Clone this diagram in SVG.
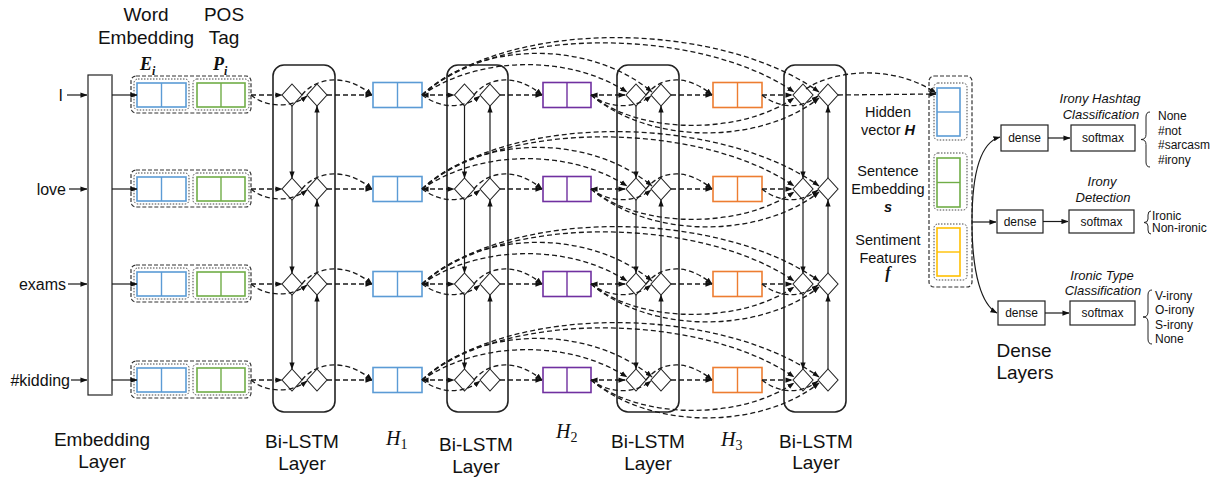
<svg xmlns="http://www.w3.org/2000/svg" xmlns:xlink="http://www.w3.org/1999/xlink" width="1220" height="477" viewBox="0 0 1220 477">
  <defs>
    <style>
      .sans { font-family: "Liberation Sans", Arial, sans-serif; fill: #111; }
      .big { font-size: 19px; text-anchor: middle; }
      .word { font-size: 16px; text-anchor: end; }
      .mid { font-size: 14.5px; text-anchor: middle; }
      .small { font-size: 12px; }
      .ttl { font-size: 13px; font-style: italic; text-anchor: middle; }
      .ctr { text-anchor: middle; }
      .math { font-family: "Liberation Serif", "Times New Roman", serif; font-style: italic; fill: #111; }
      .bi { font-weight: bold; font-style: italic; }
      .lay { fill: none; stroke: #222; stroke-width: 1.6; }
      .dia { fill: #fff; stroke: #222; stroke-width: 1.1; }
      .outer { fill: none; stroke: #333; stroke-width: 1.2; stroke-dasharray: 4 2; }
      .dot { fill: none; stroke: #444; stroke-width: 1; stroke-dasharray: 1.5 1.5; }
      .cell { fill: #fff; stroke-width: 1.6; }
      .blue { stroke: #5b9bd5; }
      .green { stroke: #70ad47; }
      .purple { stroke: #7030a0; }
      .orange { stroke: #ed7d31; }
      .yellow { stroke: #ffc000; }
      .div { fill: none; stroke-width: 1.4; }
      .box { fill: #fff; stroke: #222; stroke-width: 1.2; }
      .dash { fill: none; stroke: #1a1a1a; stroke-width: 1.3; stroke-dasharray: 5 3; marker-end: url(#ah); }
      .both { marker-start: url(#ahs); }
      .solid { fill: none; stroke: #1a1a1a; stroke-width: 1.2; marker-end: url(#ah); }
      .brace { fill: none; stroke: #222; stroke-width: 1; }
    </style>
    <marker id="ah" viewBox="0 0 8 6" refX="7.5" refY="3" markerWidth="7" markerHeight="5.5" orient="auto" markerUnits="userSpaceOnUse">
      <path d="M0,0 L8,3 L0,6 Z" fill="#111"/>
    </marker>
    <marker id="ahs" viewBox="0 0 8 6" refX="0.5" refY="3" markerWidth="7" markerHeight="5.5" orient="auto" markerUnits="userSpaceOnUse">
      <path d="M8,0 L0,3 L8,6 Z" fill="#111"/>
    </marker>
    <path id="dia" class="dia" d="M0,-11 L10,0 L0,11 L-10,0 Z"/>
  </defs>

  <rect width="1220" height="477" fill="#fff"/>

  <!-- input words -->
  <g id="words" class="sans word">
    <text x="63" y="101">I</text>
    <text x="66" y="195">love</text>
    <text x="66" y="290">exams</text>
    <text x="70" y="386">#kidding</text>
  </g>

  <!-- embedding layer -->
  <g id="embedding-layer">
    <rect x="88" y="75" width="24" height="320" fill="#fff" stroke="#222" stroke-width="1.2"/>
    <line x1="112" y1="75" x2="112" y2="395" stroke="#777" stroke-width="2"/>
    <text class="sans big" x="102" y="446">Embedding</text>
    <text class="sans big" x="102" y="468">Layer</text>
  </g>

  <!-- column headings -->
  <g id="headings">
    <text class="sans big" x="146" y="21">Word</text>
    <text class="sans big" x="146" y="44">Embedding</text>
    <text class="sans big" x="224" y="21">POS</text>
    <text class="sans big" x="224" y="44">Tag</text>
    <text class="math bi" x="140" y="70" font-size="18">E<tspan font-size="12" dy="5">i</tspan></text>
    <text class="math bi" x="213" y="70" font-size="18">P<tspan font-size="12" dy="5">i</tspan></text>
  </g>

  <!-- word embedding + POS tag vectors, one per token -->
  <g id="emb-I" transform="translate(0,95)">
    <rect class="outer" x="131" y="-19" width="120" height="37" rx="5"/>
    <rect class="dot" x="134" y="-16" width="55" height="31" rx="4"/>
    <rect class="dot" x="193" y="-16" width="56" height="31" rx="4"/>
    <rect class="cell blue" x="137" y="-12" width="49" height="24"/>
    <line class="div blue" x1="161.5" y1="-12" x2="161.5" y2="12"/>
    <rect class="cell green" x="197" y="-12" width="48" height="24"/>
    <line class="div green" x1="221" y1="-12" x2="221" y2="12"/>
  </g>
  <g id="emb-love" transform="translate(0,189)">
    <rect class="outer" x="131" y="-19" width="120" height="37" rx="5"/>
    <rect class="dot" x="134" y="-16" width="55" height="31" rx="4"/>
    <rect class="dot" x="193" y="-16" width="56" height="31" rx="4"/>
    <rect class="cell blue" x="137" y="-12" width="49" height="24"/>
    <line class="div blue" x1="161.5" y1="-12" x2="161.5" y2="12"/>
    <rect class="cell green" x="197" y="-12" width="48" height="24"/>
    <line class="div green" x1="221" y1="-12" x2="221" y2="12"/>
  </g>
  <g id="emb-exams" transform="translate(0,284)">
    <rect class="outer" x="131" y="-19" width="120" height="37" rx="5"/>
    <rect class="dot" x="134" y="-16" width="55" height="31" rx="4"/>
    <rect class="dot" x="193" y="-16" width="56" height="31" rx="4"/>
    <rect class="cell blue" x="137" y="-12" width="49" height="24"/>
    <line class="div blue" x1="161.5" y1="-12" x2="161.5" y2="12"/>
    <rect class="cell green" x="197" y="-12" width="48" height="24"/>
    <line class="div green" x1="221" y1="-12" x2="221" y2="12"/>
  </g>
  <g id="emb-kidding" transform="translate(0,380)">
    <rect class="outer" x="131" y="-19" width="120" height="37" rx="5"/>
    <rect class="dot" x="134" y="-16" width="55" height="31" rx="4"/>
    <rect class="dot" x="193" y="-16" width="56" height="31" rx="4"/>
    <rect class="cell blue" x="137" y="-12" width="49" height="24"/>
    <line class="div blue" x1="161.5" y1="-12" x2="161.5" y2="12"/>
    <rect class="cell green" x="197" y="-12" width="48" height="24"/>
    <line class="div green" x1="221" y1="-12" x2="221" y2="12"/>
  </g>

  <!-- Bi-LSTM layers: forward cell (left diamond) and backward cell (right diamond) per token -->
  <g id="bilstm-1">
    <rect class="lay" x="273" y="65" width="62" height="347" rx="11"/>
    <use xlink:href="#dia" x="292" y="95"/><use xlink:href="#dia" x="317" y="95"/>
    <use xlink:href="#dia" x="292" y="189"/><use xlink:href="#dia" x="317" y="189"/>
    <use xlink:href="#dia" x="292" y="284"/><use xlink:href="#dia" x="317" y="284"/>
    <use xlink:href="#dia" x="292" y="380"/><use xlink:href="#dia" x="317" y="380"/>
    <text class="sans big" x="302" y="448">Bi-LSTM</text>
    <text class="sans big" x="302" y="470">Layer</text>
  </g>
  <g id="bilstm-2">
    <rect class="lay" x="447" y="65" width="61" height="347" rx="11"/>
    <use xlink:href="#dia" x="464.5" y="95"/><use xlink:href="#dia" x="490" y="95"/>
    <use xlink:href="#dia" x="464.5" y="189"/><use xlink:href="#dia" x="490" y="189"/>
    <use xlink:href="#dia" x="464.5" y="284"/><use xlink:href="#dia" x="490" y="284"/>
    <use xlink:href="#dia" x="464.5" y="380"/><use xlink:href="#dia" x="490" y="380"/>
    <text class="sans big" x="476" y="451">Bi-LSTM</text>
    <text class="sans big" x="476" y="473">Layer</text>
  </g>
  <g id="bilstm-3">
    <rect class="lay" x="617" y="65" width="62" height="347" rx="11"/>
    <use xlink:href="#dia" x="636" y="95"/><use xlink:href="#dia" x="661" y="95"/>
    <use xlink:href="#dia" x="636" y="189"/><use xlink:href="#dia" x="661" y="189"/>
    <use xlink:href="#dia" x="636" y="284"/><use xlink:href="#dia" x="661" y="284"/>
    <use xlink:href="#dia" x="636" y="380"/><use xlink:href="#dia" x="661" y="380"/>
    <text class="sans big" x="648" y="448">Bi-LSTM</text>
    <text class="sans big" x="648" y="470">Layer</text>
  </g>
  <g id="bilstm-4">
    <rect class="lay" x="784" y="65" width="62" height="347" rx="11"/>
    <use xlink:href="#dia" x="803" y="95"/><use xlink:href="#dia" x="828" y="95"/>
    <use xlink:href="#dia" x="803" y="189"/><use xlink:href="#dia" x="828" y="189"/>
    <use xlink:href="#dia" x="803" y="284"/><use xlink:href="#dia" x="828" y="284"/>
    <use xlink:href="#dia" x="803" y="380"/><use xlink:href="#dia" x="828" y="380"/>
    <text class="sans big" x="816" y="448">Bi-LSTM</text>
    <text class="sans big" x="816" y="469">Layer</text>
  </g>

  <!-- hidden states H1, H2, H3 -->
  <g id="h1">
    <rect class="cell blue" x="373" y="82.5" width="49" height="25"/><line class="div blue" x1="397.5" y1="82.5" x2="397.5" y2="107.5"/>
    <rect class="cell blue" x="373" y="176.5" width="49" height="25"/><line class="div blue" x1="397.5" y1="176.5" x2="397.5" y2="201.5"/>
    <rect class="cell blue" x="373" y="271.5" width="49" height="25"/><line class="div blue" x1="397.5" y1="271.5" x2="397.5" y2="296.5"/>
    <rect class="cell blue" x="373" y="367.5" width="49" height="25"/><line class="div blue" x1="397.5" y1="367.5" x2="397.5" y2="392.5"/>
    <text class="math" x="386" y="445" font-size="20">H<tspan font-style="normal" font-size="14" dy="4">1</tspan></text>
  </g>
  <g id="h2">
    <rect class="cell purple" x="543" y="82.5" width="48" height="25"/><line class="div purple" x1="567" y1="82.5" x2="567" y2="107.5"/>
    <rect class="cell purple" x="543" y="176.5" width="48" height="25"/><line class="div purple" x1="567" y1="176.5" x2="567" y2="201.5"/>
    <rect class="cell purple" x="543" y="271.5" width="48" height="25"/><line class="div purple" x1="567" y1="271.5" x2="567" y2="296.5"/>
    <rect class="cell purple" x="543" y="367.5" width="48" height="25"/><line class="div purple" x1="567" y1="367.5" x2="567" y2="392.5"/>
    <text class="math" x="556" y="438" font-size="20">H<tspan font-style="normal" font-size="14" dy="4">2</tspan></text>
  </g>
  <g id="h3">
    <rect class="cell orange" x="713" y="82.5" width="49" height="25"/><line class="div orange" x1="737.5" y1="82.5" x2="737.5" y2="107.5"/>
    <rect class="cell orange" x="713" y="176.5" width="49" height="25"/><line class="div orange" x1="737.5" y1="176.5" x2="737.5" y2="201.5"/>
    <rect class="cell orange" x="713" y="271.5" width="49" height="25"/><line class="div orange" x1="737.5" y1="271.5" x2="737.5" y2="296.5"/>
    <rect class="cell orange" x="713" y="367.5" width="49" height="25"/><line class="div orange" x1="737.5" y1="367.5" x2="737.5" y2="392.5"/>
    <text class="math" x="721" y="446" font-size="20">H<tspan font-style="normal" font-size="14" dy="4">3</tspan></text>
  </g>

  <!-- concatenated feature vector -->
  <g id="concat">
    <rect class="outer" x="929" y="76" width="43" height="211" rx="5" stroke-dasharray="5 2.5"/>
    <rect class="dot" x="934" y="83" width="33" height="57" rx="4"/>
    <rect class="cell blue" x="937" y="88" width="23" height="48"/><line class="div blue" x1="937" y1="112" x2="960" y2="112"/>
    <rect class="dot" x="934" y="153" width="33" height="57" rx="4"/>
    <rect class="cell green" x="937" y="158" width="23" height="49"/><line class="div green" x1="937" y1="182.5" x2="960" y2="182.5"/>
    <rect class="dot" x="934" y="224" width="33" height="56" rx="4"/>
    <rect class="cell yellow" x="937" y="228" width="23" height="48"/><line class="div yellow" x1="937" y1="252" x2="960" y2="252"/>
    <g class="sans mid">
      <text x="888" y="117">Hidden</text>
      <text x="888" y="135">vector <tspan class="bi">H</tspan></text>
      <text x="888" y="176">Sentence</text>
      <text x="888" y="194">Embedding</text>
      <text x="888" y="212" class="bi">s</text>
      <text x="888" y="245">Sentiment</text>
      <text x="888" y="263">Features</text>
    </g>
    <text class="math bi ctr" x="888" y="278" font-size="16">f</text>
  </g>

  <!-- dense heads -->
  <g id="head-hashtag">
    <text class="sans ttl" x="1100" y="103">Irony Hashtag</text>
    <text class="sans ttl" x="1101" y="119">Classification</text>
    <rect class="box" x="1001" y="125" width="47" height="26"/>
    <text class="sans small ctr" x="1024.5" y="142">dense</text>
    <rect class="box" x="1071" y="125" width="64" height="26"/>
    <text class="sans small ctr" x="1103" y="142">softmax</text>
    <path class="brace" d="M1150,112 Q1146,112 1146,117 L1146,134.5 Q1146,139.5 1141,139.5 Q1146,139.5 1146,144.5 L1146,162 Q1146,167 1150,167"/>
    <g class="sans small">
      <text x="1158" y="120">None</text>
      <text x="1158" y="134.5">#not</text>
      <text x="1158" y="149">#sarcasm</text>
      <text x="1158" y="163.5">#irony</text>
    </g>
  </g>
  <g id="head-detection">
    <text class="sans ttl" x="1102" y="186">Irony</text>
    <text class="sans ttl" x="1103" y="202">Detection</text>
    <rect class="box" x="997" y="210" width="46" height="23"/>
    <text class="sans small ctr" x="1020" y="226">dense</text>
    <rect class="box" x="1069" y="210" width="65" height="23"/>
    <text class="sans small ctr" x="1101.5" y="226">softmax</text>
    <path class="brace" d="M1151,211 Q1148,211 1148,215 L1148,219 Q1148,222.5 1144,222.5 Q1148,222.5 1148,226 L1148,230 Q1148,234 1151,234"/>
    <g class="sans small">
      <text x="1152" y="219.5">Ironic</text>
      <text x="1152" y="232">Non-ironic</text>
    </g>
  </g>
  <g id="head-type">
    <text class="sans ttl" x="1102" y="280">Ironic Type</text>
    <text class="sans ttl" x="1103" y="295">Classification</text>
    <rect class="box" x="998" y="301" width="47" height="24"/>
    <text class="sans small ctr" x="1021.5" y="317">dense</text>
    <rect class="box" x="1070" y="301" width="65" height="24"/>
    <text class="sans small ctr" x="1102.5" y="317">softmax</text>
    <path class="brace" d="M1152,290 Q1148,290 1148,295 L1148,312 Q1148,317 1143,317 Q1148,317 1148,322 L1148,339 Q1148,344 1152,344"/>
    <g class="sans small">
      <text x="1155" y="299.5">V-irony</text>
      <text x="1155" y="314">O-irony</text>
      <text x="1155" y="328.5">S-irony</text>
      <text x="1155" y="343">None</text>
    </g>
    <text class="sans big" x="1024" y="357">Dense</text>
    <text class="sans big" x="1025" y="379">Layers</text>
  </g>

  <!-- connectors -->
  <g id="connectors">
    <!-- word to embedding layer, embedding layer to vectors -->
    <path class="solid" d="M67,95 L87,95"/>
    <path class="solid" d="M69,189 L87,189"/>
    <path class="solid" d="M68,284 L87,284"/>
    <path class="solid" d="M71,380 L87,380"/>
    <path class="solid" d="M112,95 L137,95"/>
    <path class="solid" d="M112,189 L137,189"/>
    <path class="solid" d="M112,284 L137,284"/>
    <path class="solid" d="M112,380 L137,380"/>

    <!-- recurrent links inside each Bi-LSTM layer -->
    <path class="solid" d="M292,106 L292,178"/><path class="solid" d="M292,200 L292,273"/><path class="solid" d="M292,295 L292,369"/>
    <path class="solid" d="M317,178 L317,106"/><path class="solid" d="M317,273 L317,200"/><path class="solid" d="M317,369 L317,295"/>
    <path class="solid" d="M464.5,106 L464.5,178"/><path class="solid" d="M464.5,200 L464.5,273"/><path class="solid" d="M464.5,295 L464.5,369"/>
    <path class="solid" d="M490,178 L490,106"/><path class="solid" d="M490,273 L490,200"/><path class="solid" d="M490,369 L490,295"/>
    <path class="solid" d="M636,106 L636,178"/><path class="solid" d="M636,200 L636,273"/><path class="solid" d="M636,295 L636,369"/>
    <path class="solid" d="M661,178 L661,106"/><path class="solid" d="M661,273 L661,200"/><path class="solid" d="M661,369 L661,295"/>
    <path class="solid" d="M803,106 L803,178"/><path class="solid" d="M803,200 L803,273"/><path class="solid" d="M803,295 L803,369"/>
    <path class="solid" d="M828,178 L828,106"/><path class="solid" d="M828,273 L828,200"/><path class="solid" d="M828,369 L828,295"/>

    <!-- per-token data flow, drawn relative to each row centre -->
    <g id="flow-row1" transform="translate(0,95)">
      <path class="dash" d="M251,0 L282,0"/>
      <path class="dash" d="M251,0 C265,12 290,14 307,1"/>
      <path class="dash" d="M302,0 C315,-17 345,-23 372,0"/>
      <path class="dash" d="M327,0 L372,0"/>
      <path class="dash both" d="M422,0 L454,0"/>
      <path class="dash" d="M422,0 C440,13 462,15 480,1"/>
      <path class="dash" d="M474,0 C487,-17 515,-23 542,0"/>
      <path class="dash" d="M500,0 L542,0"/>
      <path class="dash both" d="M591,0 L625,0"/>
      <path class="dash" d="M591,0 C608,13 633,15 651,1"/>
      <path class="dash" d="M646,0 C659,-17 685,-23 712,0"/>
      <path class="dash" d="M671,0 L712,0"/>
      <path class="dash" d="M762,0 L792,0"/>
      <path class="dash" d="M762,0 C778,13 800,15 818,1"/>
      <path class="dash" d="M422,0 C480,-40 570,-40 627,-3"/>
      <path class="dash" d="M422,0 C480,-55 590,-55 652,-3"/>
      <path class="dash" d="M422,0 C500,-70 700,-68 794,-3"/>
      <path class="dash" d="M422,0 C510,-78 720,-74 819,-3"/>
      <path class="dash" d="M591,0 C640,40 740,40 794,3"/>
      <path class="dash" d="M591,0 C650,50 760,50 819,3"/>
      <path class="dash" d="M838,0 L936,-1"/>
      <path class="dash" d="M806,-6 C830,-23 890,-33 936,-2"/>
    </g>
    <g id="flow-row2" transform="translate(0,189)">
      <path class="dash" d="M251,0 L282,0"/>
      <path class="dash" d="M251,0 C265,12 290,14 307,1"/>
      <path class="dash" d="M302,0 C315,-17 345,-23 372,0"/>
      <path class="dash" d="M327,0 L372,0"/>
      <path class="dash both" d="M422,0 L454,0"/>
      <path class="dash" d="M422,0 C440,13 462,15 480,1"/>
      <path class="dash" d="M474,0 C487,-17 515,-23 542,0"/>
      <path class="dash" d="M500,0 L542,0"/>
      <path class="dash both" d="M591,0 L625,0"/>
      <path class="dash" d="M591,0 C608,13 633,15 651,1"/>
      <path class="dash" d="M646,0 C659,-17 685,-23 712,0"/>
      <path class="dash" d="M671,0 L712,0"/>
      <path class="dash" d="M762,0 L792,0"/>
      <path class="dash" d="M762,0 C778,13 800,15 818,1"/>
      <path class="dash" d="M422,0 C480,-40 570,-40 627,-3"/>
      <path class="dash" d="M422,0 C480,-55 590,-55 652,-3"/>
      <path class="dash" d="M422,0 C500,-70 700,-68 794,-3"/>
      <path class="dash" d="M422,0 C510,-78 720,-74 819,-3"/>
      <path class="dash" d="M591,0 C640,40 740,40 794,3"/>
      <path class="dash" d="M591,0 C650,50 760,50 819,3"/>
    </g>
    <g id="flow-row3" transform="translate(0,284)">
      <path class="dash" d="M251,0 L282,0"/>
      <path class="dash" d="M251,0 C265,12 290,14 307,1"/>
      <path class="dash" d="M302,0 C315,-17 345,-23 372,0"/>
      <path class="dash" d="M327,0 L372,0"/>
      <path class="dash both" d="M422,0 L454,0"/>
      <path class="dash" d="M422,0 C440,13 462,15 480,1"/>
      <path class="dash" d="M474,0 C487,-17 515,-23 542,0"/>
      <path class="dash" d="M500,0 L542,0"/>
      <path class="dash both" d="M591,0 L625,0"/>
      <path class="dash" d="M591,0 C608,13 633,15 651,1"/>
      <path class="dash" d="M646,0 C659,-17 685,-23 712,0"/>
      <path class="dash" d="M671,0 L712,0"/>
      <path class="dash" d="M762,0 L792,0"/>
      <path class="dash" d="M762,0 C778,13 800,15 818,1"/>
      <path class="dash" d="M422,0 C480,-40 570,-40 627,-3"/>
      <path class="dash" d="M422,0 C480,-55 590,-55 652,-3"/>
      <path class="dash" d="M422,0 C500,-70 700,-68 794,-3"/>
      <path class="dash" d="M422,0 C510,-78 720,-74 819,-3"/>
      <path class="dash" d="M591,0 C640,40 740,40 794,3"/>
      <path class="dash" d="M591,0 C650,50 760,50 819,3"/>
    </g>
    <g id="flow-row4" transform="translate(0,380)">
      <path class="dash" d="M251,0 L282,0"/>
      <path class="dash" d="M251,0 C265,12 290,14 307,1"/>
      <path class="dash" d="M302,0 C315,-17 345,-23 372,0"/>
      <path class="dash" d="M327,0 L372,0"/>
      <path class="dash both" d="M422,0 L454,0"/>
      <path class="dash" d="M422,0 C440,13 462,15 480,1"/>
      <path class="dash" d="M474,0 C487,-17 515,-23 542,0"/>
      <path class="dash" d="M500,0 L542,0"/>
      <path class="dash both" d="M591,0 L625,0"/>
      <path class="dash" d="M591,0 C608,13 633,15 651,1"/>
      <path class="dash" d="M646,0 C659,-17 685,-23 712,0"/>
      <path class="dash" d="M671,0 L712,0"/>
      <path class="dash" d="M762,0 L792,0"/>
      <path class="dash" d="M762,0 C778,13 800,15 818,1"/>
      <path class="dash" d="M422,0 C480,-40 570,-40 627,-3"/>
      <path class="dash" d="M422,0 C480,-55 590,-55 652,-3"/>
      <path class="dash" d="M422,0 C500,-70 700,-68 794,-3"/>
      <path class="dash" d="M422,0 C510,-78 720,-74 819,-3"/>
      <path class="dash" d="M591,0 C640,40 740,40 794,3"/>
      <path class="dash" d="M591,0 C650,50 760,50 819,3"/>
    </g>

    <!-- concatenated vector to the three dense heads -->
    <path class="solid" d="M972,222 L996,222"/>
    <path class="solid" d="M972,222 C972,170 982,142 1000,137"/>
    <path class="solid" d="M972,222 C972,275 982,305 997,313"/>
    <path class="solid" d="M1048,138 L1070,138"/>
    <path class="solid" d="M1043,221.5 L1068,221.5"/>
    <path class="solid" d="M1045,313 L1069,313"/>
  </g>
</svg>
